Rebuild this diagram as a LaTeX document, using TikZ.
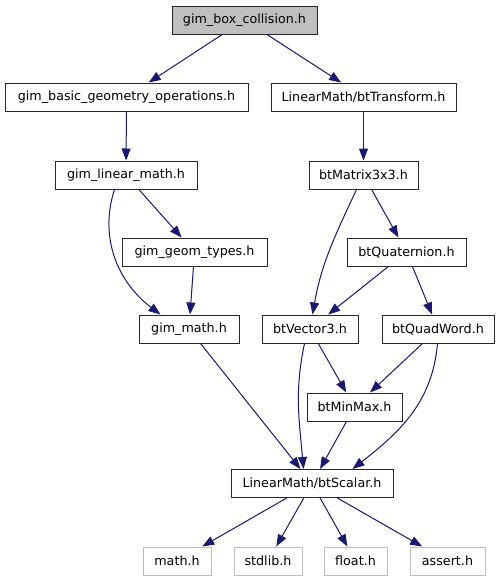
\documentclass[tikz,border=0pt]{standalone}
\usepackage{fontspec}
\setmainfont{DejaVu Sans}
\usetikzlibrary{arrows.meta}
\definecolor{edgeblue}{RGB}{25,25,112}
\definecolor{boxgray}{RGB}{191,191,191}
\definecolor{boxedge}{RGB}{40,40,40}
\begin{document}
\begin{tikzpicture}[x=1pt,y=-1pt,
  file/.style={draw=boxedge,line width=1pt,rectangle,inner sep=0pt,minimum height=28pt,
    font=\fontsize{12.7}{15}\selectfont,text=black},
  sysfile/.style={file,draw=boxgray},
  topfile/.style={file,fill=boxgray},
  dep/.style={draw=edgeblue,line width=1pt,-{Triangle[length=12pt,width=9pt]}}]
\useasboundingbox (0,0) rectangle (500,581);
\node[topfile,minimum width=145pt] (top) at (244.5,20) {gim\_box\_collision.h};
\node[file,minimum width=243pt] (basic) at (126.5,97) {gim\_basic\_geometry\_operations.h};
\node[file,minimum width=185pt] (trans) at (363.5,97) {LinearMath/btTransform.h};
\node[file,minimum width=142pt] (lm) at (126,175) {gim\_linear\_math.h};
\node[file,minimum width=109pt] (mat) at (363.5,175) {btMatrix3x3.h};
\node[file,minimum width=145pt] (geom) at (194.5,252) {gim\_geom\_types.h};
\node[file,minimum width=119pt] (quat) at (406.5,252) {btQuaternion.h};
\node[file,minimum width=100pt] (gm) at (189,329) {gim\_math.h};
\node[file,minimum width=96pt] (vec) at (310,329) {btVector3.h};
\node[file,minimum width=112pt] (qw) at (438,329) {btQuadWord.h};
\node[file,minimum width=95pt] (mm) at (354.5,407) {btMinMax.h};
\node[file,minimum width=162pt] (sc) at (312,483.5) {LinearMath/btScalar.h};
\node[sysfile,minimum width=68pt] (mathh) at (177,561) {math.h};
\node[sysfile,minimum width=68pt] (stdlib) at (268,561) {stdlib.h};
\node[sysfile,minimum width=63pt] (float) at (355.5,561) {float.h};
\node[sysfile,minimum width=75pt] (assert) at (447.5,561) {assert.h};

\draw[dep] (top) -- (basic);
\draw[dep] (top) -- (trans);
\draw[dep] (basic) -- (lm);
\draw[dep] (trans) -- (mat);
\draw[dep] (lm) -- (geom);
\draw[dep] ([xshift=60pt]lm.south west) to[out=-108,in=143] ([xshift=22pt]gm.north west);
\draw[dep] (geom) -- (gm);
\draw[dep] ([xshift=48pt]mat.south west) to[out=-115,in=80] ([xshift=51pt]vec.north west);
\draw[dep] (mat) -- (quat);
\draw[dep] (quat) -- (vec);
\draw[dep] (quat) -- (qw);
\draw[dep] (gm) -- (sc);
\draw[dep] ([xshift=43pt]vec.south west) to[out=-102,in=95] ([xshift=73pt]sc.north west);
\draw[dep] (vec) -- (mm);
\draw[dep] (qw) -- (mm);
\draw[dep] ([xshift=56pt]qw.south west) to[out=-95,in=38] ([xshift=122pt]sc.north west);
\draw[dep] (mm) -- (sc);
\draw[dep] (sc) -- (mathh);
\draw[dep] (sc) -- (stdlib);
\draw[dep] (sc) -- (float);
\draw[dep] (sc) -- (assert);
\end{tikzpicture}
\end{document}
